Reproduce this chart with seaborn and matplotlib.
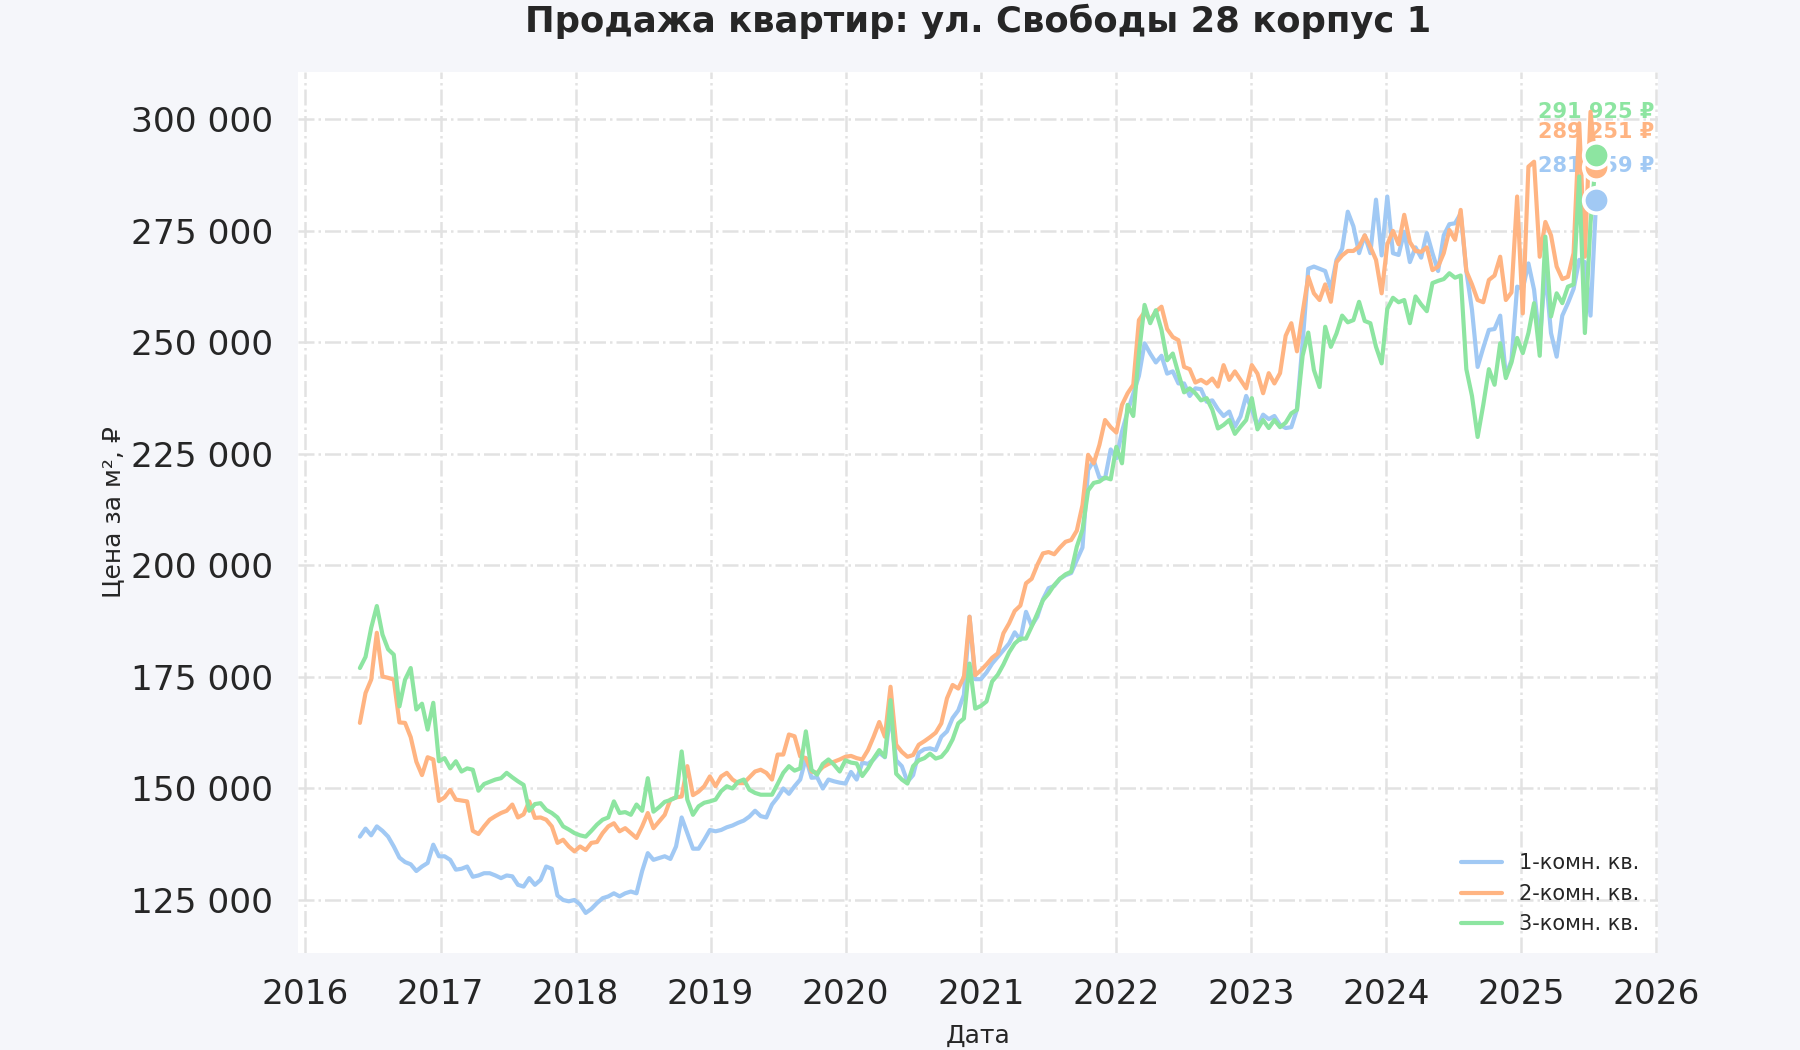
import pandas as pd
import seaborn as sns
import matplotlib.pyplot as plt
import matplotlib.dates as mdates
from matplotlib.ticker import FuncFormatter, MultipleLocator

# --- DATA (price per m2, thousands of rubles, semi-monthly readings) ---
room_labels = ["1-комн. кв.", "2-комн. кв.", "3-комн. кв."]

one_room = [
    139.2, 141.0, 139.5, 141.5, 140.5, 139.2, 137.0, 134.5, 133.5, 133.0, 131.5, 132.5, 133.3, 137.4,
    134.8, 134.8, 134.0, 131.8, 132.0, 132.5, 130.2, 130.5, 131.0, 131.0, 130.5, 129.9,
    130.5, 130.3, 128.4, 128.0, 129.9, 128.4, 129.5, 132.5, 132.0, 126.0, 125.0, 124.7,
    125.0, 124.0, 122.1, 123.0, 124.3, 125.4, 125.8, 126.5, 125.8, 126.5, 126.9, 126.5,
    131.5, 135.5, 134.0, 134.4, 134.8, 134.2, 137.0, 143.5, 140.0, 136.5, 136.5, 138.5,
    140.7, 140.4, 140.7, 141.3, 141.7, 142.3, 142.8, 143.7, 145.0, 143.8, 143.5, 146.4,
    148.0, 150.0, 148.8, 150.5, 152.0, 156.8, 152.4, 152.5, 150.0, 152.0, 151.6, 151.3,
    151.1, 153.7, 152.0, 155.8, 155.5, 156.5, 158.0, 157.0, 166.8, 156.3, 155.0, 151.5,
    153.0, 158.0, 158.8, 159.0, 158.6, 161.6, 162.8, 165.8, 167.5, 171.0, 188.5, 174.5,
    174.5, 176.0, 178.0, 179.5, 181.0, 182.5, 185.0, 183.3, 189.6, 186.5, 188.5, 192.4,
    194.9, 195.4, 197.0, 197.8, 198.3, 201.2, 204.0, 221.4, 223.5, 219.7, 219.5, 226.0,
    224.0, 230.0, 234.5, 238.5, 242.5, 249.8, 247.5, 245.5, 247.0, 243.0, 243.5, 240.8,
    240.8, 238.0, 239.7, 239.5, 236.7, 237.0, 235.0, 233.5, 234.5, 231.1, 233.4, 238.0,
    235.0, 231.1, 233.8, 232.8, 233.5, 231.5, 230.8, 231.0, 235.0, 250.0, 266.5, 267.0,
    266.5, 266.0, 262.0, 268.5, 271.0, 279.3, 276.0, 270.0, 274.0, 270.0, 282.0, 269.5,
    282.7, 270.0, 269.6, 274.8, 268.0, 271.3, 269.0, 274.5, 270.0, 266.0, 274.0, 276.5,
    276.7, 278.9, 266.0, 257.3, 244.5, 248.8, 252.8, 253.0, 256.0, 242.5, 246.0, 262.5,
    262.0, 267.7, 261.8, 250.0, 266.5, 252.1, 246.8, 256.0, 258.8, 262.0, 268.5, 268.0, 256.0, 281.959,
]

two_room = [
    164.7, 171.4, 174.4, 184.9, 175.1, 174.8, 174.4, 164.8, 164.7, 161.5, 156.0, 153.0, 157.0, 156.5,
    147.2, 148.0, 149.7, 147.5, 147.3, 147.1, 140.5, 139.8, 141.5, 143.0, 143.8, 144.5,
    145.0, 146.4, 143.5, 144.2, 147.1, 143.4, 143.5, 143.0, 141.5, 137.8, 138.5, 137.0,
    135.9, 137.0, 136.2, 137.8, 138.0, 140.0, 141.5, 142.2, 140.4, 141.1, 140.0, 138.9,
    141.5, 144.5, 141.1, 142.6, 144.1, 147.5, 148.0, 148.2, 155.0, 148.5, 149.3, 150.5,
    152.7, 150.5, 152.7, 153.5, 152.0, 151.2, 151.2, 152.5, 153.8, 154.2, 153.5, 152.0,
    157.6, 157.6, 162.1, 161.7, 157.2, 156.8, 153.8, 153.5, 154.8, 155.5, 156.0, 156.5,
    157.1, 157.3, 156.8, 156.5, 158.6, 161.6, 164.9, 161.6, 172.8, 159.8, 158.2, 157.1,
    157.5, 159.8, 160.6, 161.5, 162.5, 164.6, 170.2, 173.2, 172.4, 175.0, 188.5, 175.4,
    176.5, 177.8, 179.3, 180.3, 184.8, 187.0, 189.8, 191.0, 196.0, 197.0, 200.1, 202.7,
    203.0, 202.5, 204.0, 205.3, 205.7, 207.8, 213.5, 224.8, 222.9, 227.0, 232.6, 231.0,
    229.8, 236.0, 238.6, 240.5, 255.0, 256.8, 255.0, 256.9, 258.0, 253.0, 251.2, 250.5,
    244.5, 244.0, 241.0, 241.6, 240.8, 241.9, 240.1, 244.9, 241.6, 243.5, 241.6, 239.7,
    244.9, 243.0, 238.6, 243.1, 240.8, 243.1, 251.5, 254.3, 248.0, 256.7, 264.7, 261.0,
    259.5, 263.0, 259.1, 268.0, 269.5, 270.5, 270.5, 271.5, 274.0, 271.4, 268.5, 261.0,
    272.0, 275.0, 272.0, 278.6, 272.5, 270.5, 270.3, 271.3, 266.2, 267.0, 270.0, 275.2,
    273.0, 279.7, 266.0, 263.0, 259.5, 259.0, 264.0, 265.0, 269.2, 259.5, 261.2, 282.7,
    256.5, 289.4, 290.5, 269.2, 277.0, 274.0, 267.0, 264.2, 264.7, 270.0, 299.1, 269.2, 301.7, 289.251,
]

three_room = [
    177.0, 179.5, 186.0, 190.9, 184.5, 181.2, 180.0, 168.4, 174.4, 177.0, 167.7, 169.0, 163.2, 169.2,
    156.1, 156.8, 154.5, 156.1, 153.8, 154.5, 154.2, 149.5, 151.0, 151.5, 152.0, 152.3,
    153.5, 152.5, 151.6, 150.8, 145.0, 146.5, 146.7, 145.2, 144.5, 143.5, 141.5, 140.8,
    140.0, 139.5, 139.2, 140.5, 141.9, 143.0, 143.5, 147.1, 144.5, 144.7, 144.1, 146.4,
    145.0, 152.3, 144.8, 145.8, 147.0, 147.4, 148.0, 158.3, 147.5, 144.1, 146.0, 146.8,
    147.1, 147.5, 149.4, 150.5, 150.0, 151.5, 152.0, 149.7, 149.0, 148.6, 148.6, 148.6,
    151.0, 153.5, 155.0, 154.0, 154.5, 162.8, 154.2, 153.1, 155.5, 156.5, 155.3, 153.8,
    156.3, 155.8, 155.6, 152.8, 154.5, 156.7, 158.6, 157.1, 169.8, 153.3, 152.0, 151.1,
    155.0, 156.3, 156.8, 157.8, 156.7, 157.1, 158.6, 161.0, 164.6, 165.7, 178.0, 167.9,
    168.5, 169.5, 174.0, 175.5, 177.8, 180.5, 182.5, 183.6, 183.6, 186.3, 189.2, 192.2,
    193.7, 195.6, 197.0, 198.0, 198.6, 204.2, 208.0, 216.8, 218.5, 218.8, 219.7, 219.3,
    226.6, 222.9, 236.0, 233.5, 247.5, 258.4, 254.3, 257.2, 252.8, 246.0, 247.5, 243.0,
    238.8, 239.7, 238.6, 237.0, 237.5, 234.9, 230.7, 231.5, 232.6, 229.5, 231.1, 232.6,
    237.5, 230.5, 232.6, 230.8, 232.6, 231.0, 232.0, 234.1, 234.9, 247.0, 252.2, 243.8,
    240.0, 253.5, 249.0, 252.0, 256.0, 254.5, 255.0, 259.1, 254.8, 254.3, 249.0, 245.3,
    257.5, 260.0, 259.0, 259.5, 254.3, 260.3, 258.5, 257.0, 263.3, 263.8, 264.2, 265.5,
    264.5, 265.0, 244.0, 238.0, 228.8, 236.0, 244.0, 240.5, 249.8, 242.0, 245.5, 251.0,
    247.6, 252.1, 258.8, 247.0, 273.7, 255.8, 261.0, 258.8, 262.5, 263.0, 287.2, 252.1, 276.7, 291.925,
]

dates = pd.date_range("2016-05-28", "2025-07-22", periods=len(one_room))

# --- STYLE ---
sns.set_theme(style="whitegrid", context="talk", palette="pastel")
plt.rcParams['font.family'] = ['DejaVu Sans', 'Noto Sans']
colors = sns.color_palette("pastel")[:3]

frames = []
for label, values in zip(room_labels, [one_room, two_room, three_room]):
    frames.append(pd.DataFrame({"date": dates, "price": [v * 1000 for v in values], "rooms": label}))
df = pd.concat(frames, ignore_index=True)

fig, ax = plt.subplots(figsize=(12, 7), dpi=150)
fig.patch.set_facecolor("#f5f6fa")
fig.subplots_adjust(left=0.1656, right=0.9211, bottom=0.0924, top=0.9317)
ax.set_facecolor("white")

sns.lineplot(data=df, x="date", y="price", hue="rooms", palette=colors, linewidth=2.0, ax=ax)

# last value markers + labels
label_offsets = [16, 17, 21]
for label, color, off in zip(room_labels, colors, label_offsets):
    sub = df[df["rooms"] == label]
    last_date = sub["date"].iloc[-1]
    last_val = sub["price"].iloc[-1]
    ax.scatter(last_date, last_val, s=150, color=color, edgecolor="white", linewidth=1.8, zorder=5)
    ax.annotate(f"{last_val:,.0f} ₽".replace(",", " "), (last_date, last_val),
                xytext=(0, off), textcoords="offset points", ha="center", va="center",
                fontsize=10, fontweight="bold", color=color, zorder=1)

ax.grid(True, linestyle="-.", color="#e2e2e2", linewidth=1.2)
for s in ax.spines.values():
    s.set_visible(False)

ax.xaxis.set_major_locator(mdates.YearLocator())
ax.xaxis.set_major_formatter(mdates.DateFormatter("%Y"))
ax.yaxis.set_major_locator(MultipleLocator(25000))
ax.yaxis.set_major_formatter(FuncFormatter(lambda v, _: f"{v:,.0f}".replace(",", " ")))
ax.tick_params(axis="both", length=0, pad=12)

ax.set_title("Продажа квартир: ул. Свободы 28 корпус 1", fontsize=17, fontweight="bold", pad=19)
ax.set_xlabel("Дата", fontsize=12, labelpad=6)
ax.set_ylabel("Цена за м², ₽", fontsize=12, labelpad=3)

ax.legend(loc="lower right", frameon=False, fontsize=10)

fig.savefig("out.png", dpi=150, facecolor=fig.get_facecolor())
